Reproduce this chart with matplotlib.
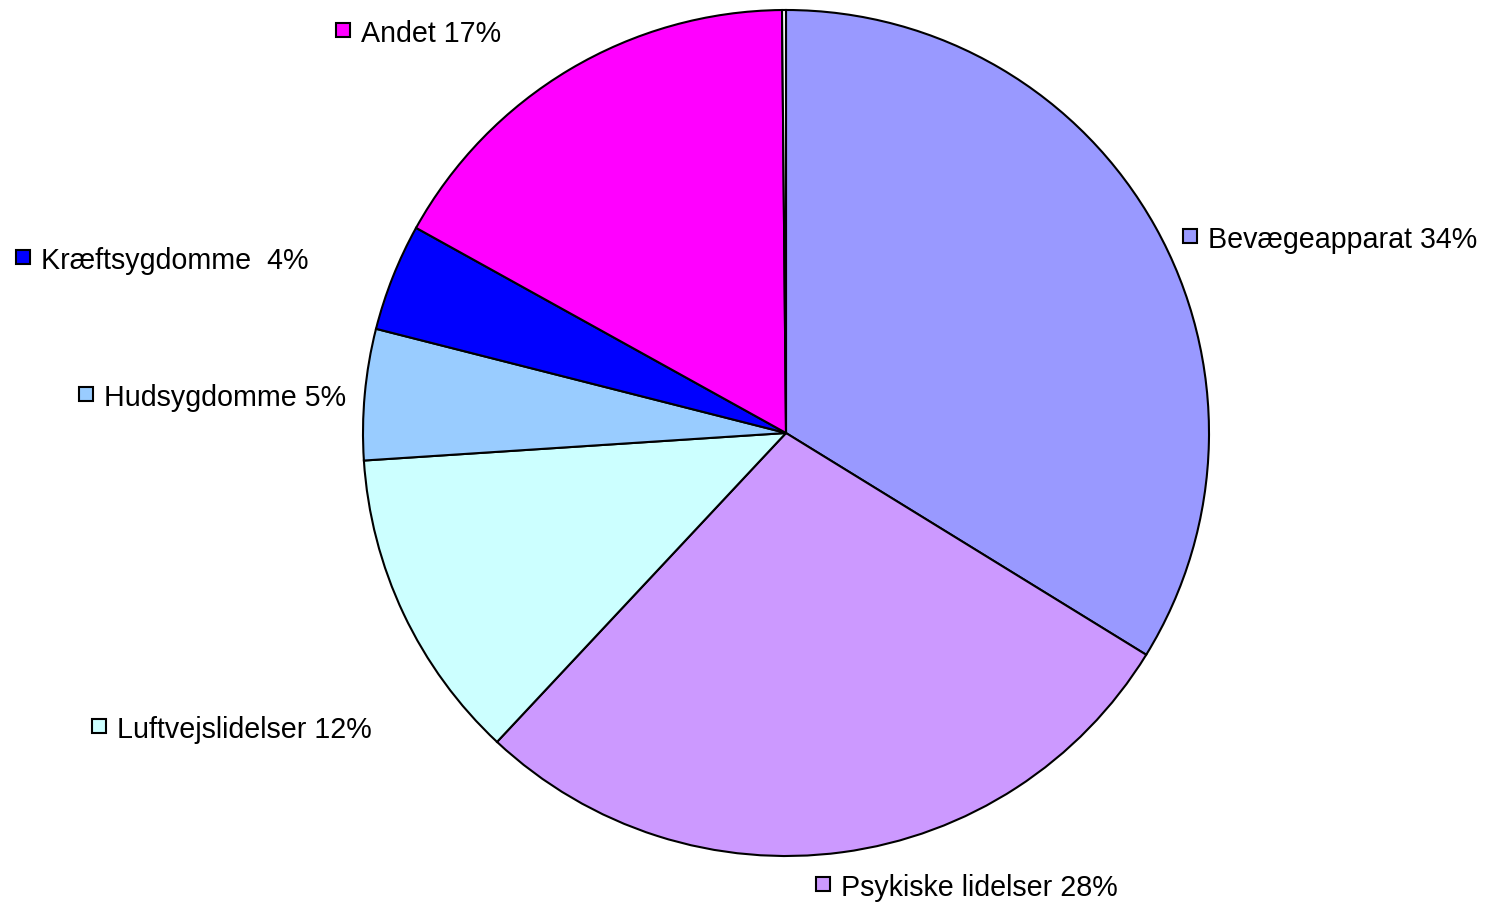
import matplotlib
matplotlib.use('Agg')
import matplotlib.pyplot as plt

# Slice data (clockwise from top)
labels = ['Bevægeapparat 34%', 'Psykiske lidelser 28%', 'Luftvejslidelser 12%',
          'Hudsygdomme 5%', 'Kræftsygdomme  4%', 'Andet 17%', '']
values = [33.8, 28.2, 12.0, 5.0, 4.1, 16.8, 0.15]
colors = ['#9999FF', '#CC99FF', '#CCFFFF', '#99CCFF', '#0000FF', '#FF00FF', '#FFFFFF']

# Label positions in pixels (square marker centre), one per named slice
label_px = [(1190, 237), (823, 885), (99, 727), (86, 395), (23, 258), (343, 31)]

W, H = 1486, 903
fig = plt.figure(figsize=(W/100, H/100), dpi=100)
fig.patch.set_facecolor('white')

# Pie centre (786, 434), radius 423 px
cx, cy, r = 786, 434, 423
ax = fig.add_axes([(cx-r)/W, (H-cy-r)/H, 2*r/W, 2*r/H])
ax.pie(values, colors=colors, startangle=90, counterclock=False,
       wedgeprops=dict(edgecolor='black', linewidth=1.5))
ax.set_xlim(-1.0, 1.0)
ax.set_ylim(-1.0, 1.0)
ax.axis('off')

# Labels with small square keys
for (px, py), lab, col in zip(label_px, labels, colors):
    fx, fy = px/W, 1 - py/H
    fig.lines.append(plt.Line2D([fx], [fy], transform=fig.transFigure,
                                marker='s', markersize=10.5, markerfacecolor=col,
                                markeredgecolor='black', markeredgewidth=1.5,
                                linestyle='none'))
    fig.text(fx + 18/W, fy, lab, fontsize=20.6, family='Liberation Sans',
             ha='left', va='center_baseline')

fig.savefig('out.png', dpi=100)
